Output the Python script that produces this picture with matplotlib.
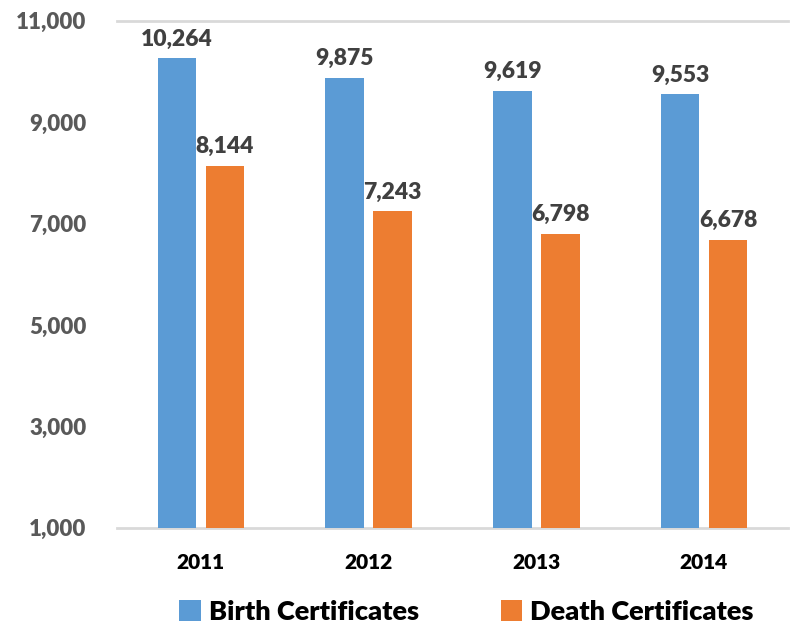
import matplotlib
matplotlib.use("Agg")
import matplotlib.pyplot as plt
import numpy as np
from matplotlib.ticker import FuncFormatter

years = ["2011", "2012", "2013", "2014"]
birth = [10264, 9875, 9619, 9553]
death = [8144, 7243, 6798, 6678]
series_names = ["Birth Certificates", "Death Certificates"]
yticks = [1000, 3000, 5000, 7000, 9000, 11000]

plt.rcParams['font.family'] = ['Lato', 'DejaVu Sans']
WEIGHT = "heavy"

fig = plt.figure(figsize=(7.91, 6.29), dpi=100)
ax = fig.add_axes([0.148, 0.161, 0.848, 0.806])

x = np.arange(len(years))
w = 0.23
off = 0.143
b1 = ax.bar(x - off, birth, w, color="#5B9BD5", label=series_names[0], zorder=3)
b2 = ax.bar(x + off, death, w, color="#ED7D31", label=series_names[1], zorder=3)

for rects, vals in ((b1, birth), (b2, death)):
    for r, v in zip(rects, vals):
        ax.text(r.get_x() + r.get_width() / 2, v + 170, f"{v:,}", ha="center", va="bottom",
                fontsize=16.5, fontweight=WEIGHT, color="#404040")

ax.set_xlim(-0.5, 3.5)
ax.set_ylim(1000, 11000)
ax.set_yticks(yticks)
ax.yaxis.set_major_formatter(FuncFormatter(lambda v, p: f"{int(v):,}"))
ax.set_xticks(x)
ax.set_xticklabels(years)
for s in ["left", "right"]:
    ax.spines[s].set_visible(False)
ax.spines["top"].set_color("#D9D9D9")
ax.spines["top"].set_linewidth(2)
ax.spines["bottom"].set_color("#D9D9D9")
ax.spines["bottom"].set_linewidth(2)
ax.tick_params(axis="both", length=0)
ax.tick_params(axis="y", labelsize=16, labelcolor="#595959", pad=22)
ax.tick_params(axis="x", labelsize=15, labelcolor="#000000", pad=18)
for lbl in ax.get_yticklabels():
    lbl.set_fontweight(WEIGHT)
for lbl in ax.get_xticklabels():
    lbl.set_fontweight(WEIGHT)

leg = fig.legend(handles=[b1, b2], loc="center", bbox_to_anchor=(0.59, 0.027), ncol=2,
                 frameon=False, fontsize=19.5, handlelength=0.8, handleheight=0.8,
                 columnspacing=3.0, handletextpad=0.3)
for t in leg.get_texts():
    t.set_fontweight(WEIGHT)
    t.set_color("#000000")

fig.savefig("out.png", dpi=100)
